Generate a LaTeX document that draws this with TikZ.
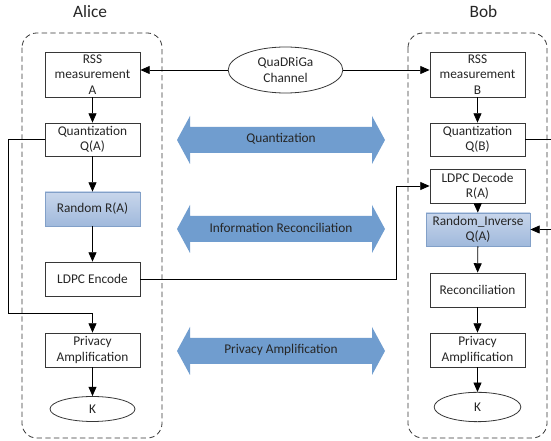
\documentclass[tikz,border=0pt]{standalone}
\usepackage{fontspec}
\setmainfont{Carlito}
\usetikzlibrary{arrows.meta,shapes.geometric}
\definecolor{arrowblue}{RGB}{112,157,207}
\definecolor{boxtop}{RGB}{200,214,235}
\definecolor{boxbot}{RGB}{160,185,220}
\definecolor{boxedge}{RGB}{130,160,200}
\definecolor{linegray}{RGB}{55,55,55}
\newcommand\dblarrow[1]{%
  \fill[arrowblue] (177,#1) -- (190,{#1-24}) -- (190,{#1-13}) -- (372,{#1-13}) -- (372,{#1-24})
    -- (385,#1) -- (372,{#1+24}) -- (372,{#1+13}) -- (190,{#1+13}) -- (190,{#1+24}) -- cycle;}
\begin{document}
\begin{tikzpicture}[x=0.75pt,y=-0.75pt,
  txt/.style={font=\fontsize{10}{11.5}\selectfont, text=black!85},
  stepbox/.style={txt, draw=linegray, line width=0.6pt, minimum width=71.25pt,
    minimum height=25.5pt, inner sep=1pt, align=center},
  tallbox/.style={stepbox, minimum height=33.75pt},
  bluebox/.style={stepbox, draw=boxedge, top color=boxtop, bottom color=boxbot},
  oval/.style={txt, draw=linegray, line width=0.6pt, ellipse, inner sep=0pt, align=center},
  container/.style={draw=linegray, line width=0.6pt, dash pattern=on 4pt off 2.5pt, rounded corners=11pt},
  arr/.style={draw=black, line width=0.6pt, -{Triangle[length=7pt,width=6pt]}},
  plain/.style={draw=black, line width=0.6pt},
  head/.style={font=\fontsize{13}{15}\selectfont, text=black!85},
  bigtext/.style={font=\fontsize{10}{12}\selectfont, text=black!85}
]
\useasboundingbox (0,0) rectangle (551,441);
\clip (0,0) rectangle (551,441);
\fill[white] (0,0) rectangle (551,441);

% headers
\node[head] (alice) at (90,12) {Alice};
\node[head] (bob) at (483.5,12) {Bob};

% containers
\draw[container] (22,33) rectangle (162,438);
\draw[container] (408,33) rectangle (547,438);

% big double arrows
\dblarrow{140}
\dblarrow{229}
\dblarrow{351}
\node[bigtext] (tq) at (281,139) {Quantization};
\node[bigtext] (tir) at (281,228) {Information Reconciliation};
\node[bigtext] (tpa) at (281,350) {Privacy Amplification};

% channel
\node[oval, minimum width=86pt, minimum height=34.5pt] (ch) at (285.5,70) {QuaDRiGa\\Channel};

% Alice
\node[tallbox] (rssA) at (92.5,74.5) {RSS\\measurement\\A};
\node[stepbox, minimum height=24.75pt] (qA) at (92.5,139.5) {Quantization\\Q(A)};
\node[bluebox] (rA) at (92.5,209) {Random R(A)};
\node[stepbox] (ldA) at (92.5,279) {LDPC Encode};
\node[stepbox] (paA) at (92.5,350) {Privacy\\Amplification};
\node[oval, minimum width=63.75pt, minimum height=18.75pt] (kA) at (92.5,409) {K};

% Bob
\node[tallbox] (rssB) at (477.5,74.5) {RSS\\measurement\\B};
\node[stepbox, minimum height=24.75pt] (qB) at (477.5,139.5) {Quantization\\Q(B)};
\node[stepbox] (ldB) at (477.5,186) {LDPC Decode\\R(A)};
\node[bluebox, minimum width=78pt, minimum height=24.75pt] (riB) at (478,229.5) {Random\_Inverse\\Q(A)};
\node[stepbox] (recB) at (477.5,290) {Reconciliation};
\node[stepbox] (paB) at (477.5,350) {Privacy\\Amplification};
\node[oval, minimum width=65pt, minimum height=22pt] (kB) at (477.5,407) {K};

% helper coordinates
\coordinate (loopA) at (8,313);
\coordinate (jx) at (396,279);
\coordinate (edgeR) at (558,139.5);

% connectors
\draw[arr] (ch.west) -- (ch.west -| rssA.east);
\draw[arr] (ch.east) -- (ch.east -| rssB.west);
\draw[arr] (rssA) -- (qA);
\draw[arr] (qA) -- (rA);
\draw[arr] (rA) -- (ldA);
\draw[arr] (paA) -- (kA);
\draw[arr] (qA.west) -| (loopA) -| (paA.north);
\draw[arr] (ldA.east) -- (ldA.east -| jx) |- (ldB.west);
\draw[arr] (rssB) -- (qB);
\draw[arr] (ldB) -- (riB);
\draw[arr] (riB) -- (recB);
\draw[arr] (recB) -- (paB);
\draw[arr] (paB) -- (kB);
\draw[arr] (qB.east) -| (edgeR) |- (riB.east);
\end{tikzpicture}
\end{document}
